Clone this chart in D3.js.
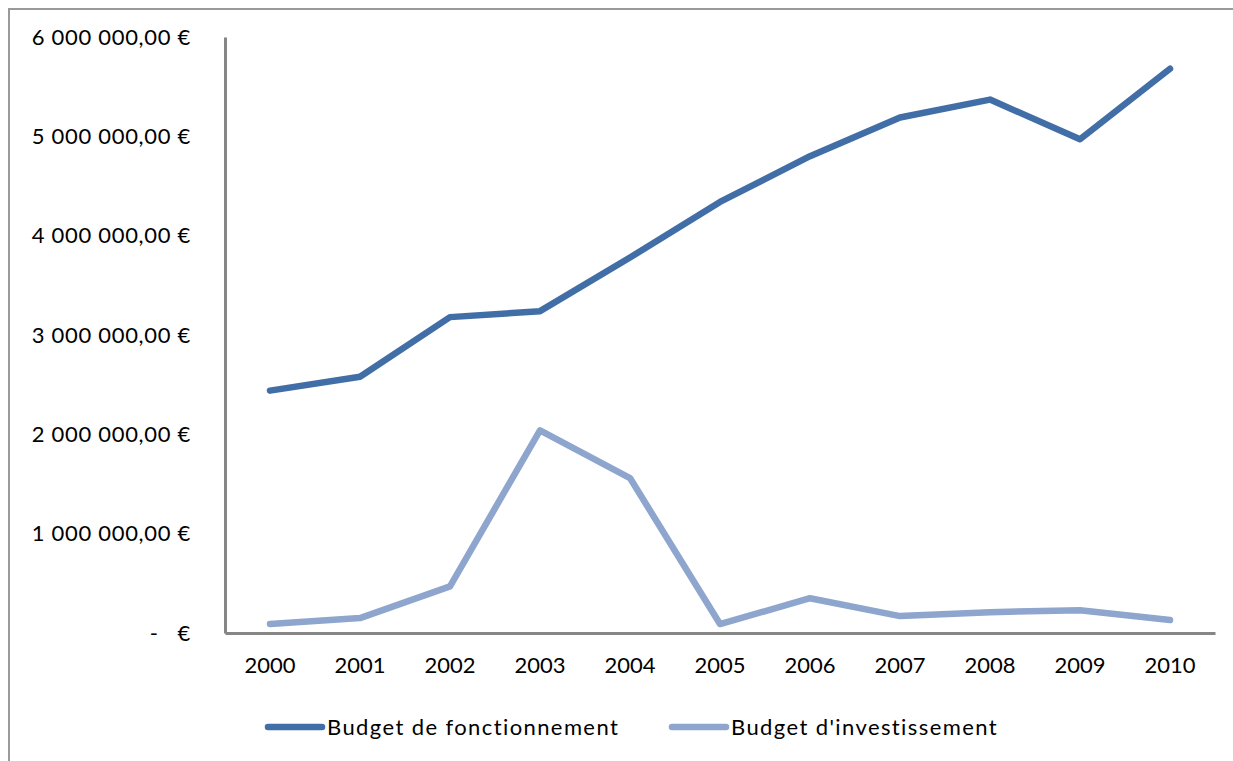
<!DOCTYPE html>
<html><head><meta charset="utf-8">
<script src="https://cdn.jsdelivr.net/npm/d3@7"></script>
<style>
body{margin:0;background:#fff;}
svg{display:block;font-family:Lato,"Open Sans",sans-serif;}
</style></head>
<body><svg id="c" width="1233" height="761"></svg>
<script>
const years = ["2000","2001","2002","2003","2004","2005","2006","2007","2008","2009","2010"];
const fonctionnement = [2440000,2580000,3180000,3240000,3780000,4340000,4800000,5190000,5370000,4970000,5680000];
const investissement = [90000,150000,470000,2040000,1560000,90000,350000,170000,210000,230000,130000];
const seriesNames = ["Budget de fonctionnement","Budget d'investissement"];
const yTicks = [0,1000000,2000000,3000000,4000000,5000000,6000000];

const colors = ["#416ea6","#8ea5ce"];
const svg = d3.select("#c");

// outer frame
svg.append("rect").attr("x",9).attr("y",9).attr("width",1300).attr("height",800)
  .attr("fill","none").attr("stroke","#9a9a9a").attr("stroke-width",2);

const x = d3.scaleBand().domain(years).range([225,1215]);
const y = d3.scaleLinear().domain([0,6000000]).range([633,37]);

const fmt = v => {
  if (v === 0) return "-\u00a0\u00a0\u00a0€";
  const s = d3.format(",.2f")(v).replace(/,/g,"\u00a0").replace(".",",");
  return s + "\u00a0€";
};

const yAxis = svg.append("g").attr("transform","translate(225,0)")
  .call(d3.axisLeft(y).tickValues(yTicks).tickFormat(fmt).tickSize(0).tickPadding(34));
yAxis.select(".domain").attr("stroke","#868686").attr("stroke-width",3);
yAxis.selectAll("text").attr("font-size",22).attr("fill","#000").attr("font-family","Lato")
  .attr("letter-spacing","0.7px");

const xAxis = svg.append("g").attr("transform","translate(0,633)")
  .call(d3.axisBottom(x).tickSize(0).tickPadding(24));
xAxis.select(".domain").attr("stroke","#868686").attr("stroke-width",3);
xAxis.selectAll("text").attr("font-size",22).attr("fill","#000").attr("font-family","Lato");

const line = d3.line().x((d,i)=>x(years[i])+x.bandwidth()/2).y(d=>y(d));
[fonctionnement, investissement].forEach((s,k)=>{
  svg.append("path").datum(s).attr("d",line).attr("fill","none")
    .attr("stroke",colors[k]).attr("stroke-width",6.5)
    .attr("stroke-linecap","round").attr("stroke-linejoin","round");
});

// legend
const legX = [268,672];
seriesNames.forEach((n,k)=>{
  const g = svg.append("g").attr("transform",`translate(${legX[k]},727)`);
  g.append("line").attr("x1",0).attr("x2",54).attr("y1",0).attr("y2",0)
    .attr("stroke",colors[k]).attr("stroke-width",6.5).attr("stroke-linecap","round");
  g.append("text").attr("x",59).attr("y",8).attr("font-size",22).attr("letter-spacing","1.4px")
    .attr("fill","#000").text(n);
});
</script></body></html>
